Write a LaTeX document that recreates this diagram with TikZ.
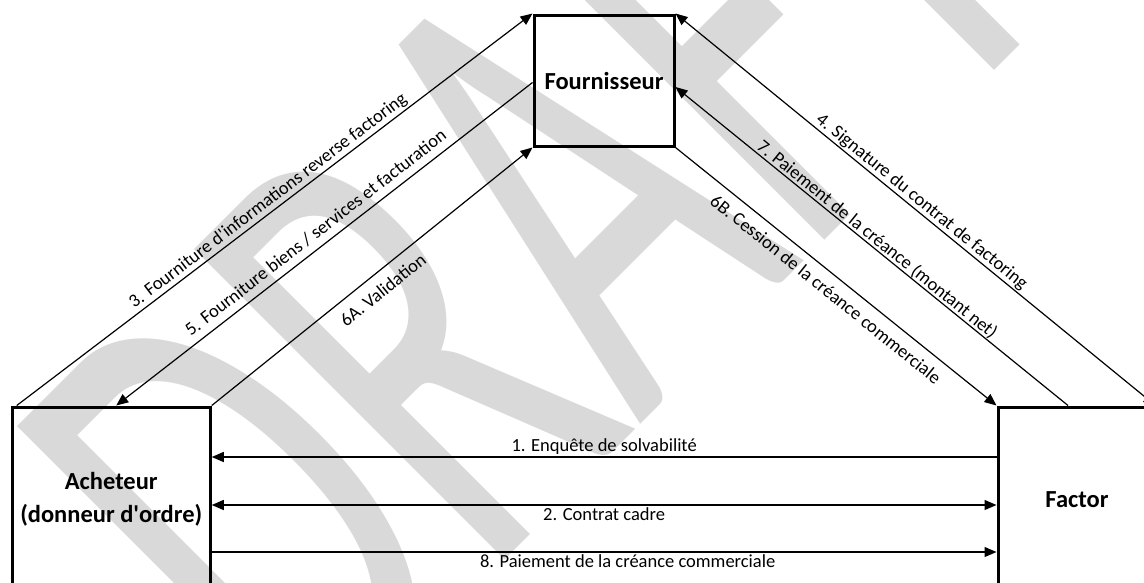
\documentclass[tikz,border=0pt]{standalone}
\usepackage{fontspec}
\setmainfont{Carlito}
\usepackage{tikz}
\usetikzlibrary{arrows.meta, positioning}
\definecolor{draftgray}{HTML}{D9D9D9}
\tikzstyle{entity} = [draw=black, line width=3pt, font=\bfseries\fontsize{24.5}{33}\selectfont, align=center, inner sep=0pt]
\tikzstyle{arrow} = [line width=1.2pt, -{Triangle[length=12pt,width=10pt]}]
\tikzstyle{twoway} = [line width=1.2pt, {Triangle[length=12pt,width=10pt]}-{Triangle[length=12pt,width=10pt]}]
\tikzstyle{flowtext} = [font=\fontsize{18.5}{20}\selectfont, inner sep=2pt]

\begin{document}
\begin{tikzpicture}[x=1pt, y=-1pt]
\useasboundingbox (0,0) rectangle (1144,582);
\clip (0,0) rectangle (1144,582);
% watermark, rotated and stretched
\node[text=draftgray, font=\fontsize{405}{405}\selectfont, anchor=base west, inner sep=0pt, cm={0.7071,0.7071,-1.195,1.195,(0,0)}] (draft) at (308,757) {DRAFT};

\node[entity, minimum width=140pt, minimum height=131pt] (fourn) at (604,80.5) {Fournisseur};
\node[entity, minimum width=198pt, minimum height=185pt] (achat) at (111.25,499.5) {Acheteur\\(donneur d\textquotesingle ordre)};
\node[entity, minimum width=158pt, minimum height=185pt] (factor) at (1077,499.5) {Factor};

\draw [arrow] ([xshift=6pt]achat.north west) -- (fourn.north west) node[flowtext, midway, sloped, above] {3. Fourniture d\textquotesingle informations reverse factoring};
\draw [arrow] ([yshift=-2pt]fourn.west) -- ([xshift=5pt]achat.north) node[flowtext, midway, sloped, above=5pt] {5. Fourniture biens / services et facturation};
\draw [arrow] (achat.north east) -- (fourn.south west) node[flowtext, midway, sloped, below=8pt] {6A. Validation};
\draw [twoway] ([xshift=-2pt]factor.north east) -- (fourn.north east) node[flowtext, midway, sloped, above=-1pt] {4. Signature du contrat de factoring};
\draw [arrow] ([xshift=-9pt]factor.north) -- ([yshift=-6.5pt]fourn.east) node[flowtext, midway, sloped, above=-2pt] {7. Paiement de la créance (montant net)};
\draw [arrow] (fourn.south east) -- (factor.north west) node[flowtext, midway, sloped, below=7pt] {6B. Cession de la créance commerciale};

\draw [arrow] ([yshift=42.5pt]factor.west) -- ([yshift=42.5pt]achat.east) node[flowtext, midway, above] {1. Enquête de solvabilité};
\draw [twoway] ([yshift=-5.5pt]achat.east) -- ([yshift=-5.5pt]factor.west) node[flowtext, midway, below] {2. Contrat cadre};
\draw [arrow] ([yshift=-52.5pt]achat.east) -- ([yshift=-52.5pt]factor.west) node[flowtext, pos=0.53, below] {8. Paiement de la créance commerciale};
\end{tikzpicture}
\end{document}
